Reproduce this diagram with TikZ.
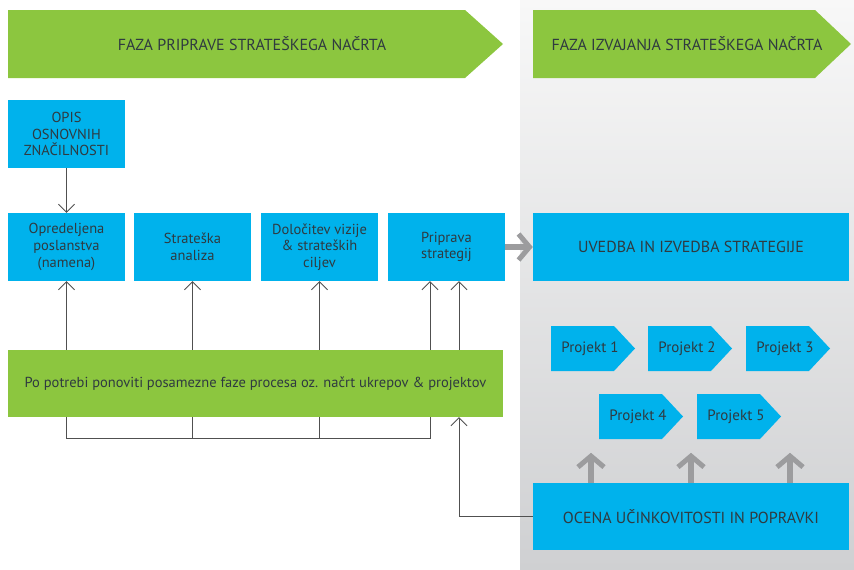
\documentclass[tikz,border=0pt]{standalone}
\usepackage{fontspec}
\setmainfont{PT Sans}
\usepackage{tikz}
\usetikzlibrary{arrows.meta}
\definecolor{faza_green}{HTML}{8CC63F}
\definecolor{box_blue}{HTML}{00B2EC}
\definecolor{arrow_gray}{HTML}{9C9C9E}
\definecolor{line_gray}{HTML}{505050}
\definecolor{txt_dark}{HTML}{2F3A40}
\definecolor{bg_top}{HTML}{F8F8F8}
\definecolor{bg_bottom}{HTML}{CFD0D2}

\begin{document}
\begin{tikzpicture}[x=1pt, y=-1pt]
    \tikzstyle{box} = [fill=box_blue, text=txt_dark, inner sep=0pt, align=center, font=\fontsize{14.5}{16.7}\selectfont];
    \tikzstyle{title} = [text=txt_dark, font=\fontsize{16}{18}\selectfont];
    \tikzstyle{lnk} = [draw=line_gray, line width=0.8pt, -{Straight Barb[length=8pt, width=16pt, line width=0.8pt]}];
    \tikzstyle{thick arrow} = [draw=arrow_gray, line width=6pt, -{Straight Barb[length=11pt, width=26pt, line width=5pt]}];
    \useasboundingbox (0,0) rectangle (854,570);
    \shade[top color=bg_top, bottom color=bg_bottom] (520,0) rectangle (854,570);
    % phase chevrons
    \fill[faza_green] (8,10) -- (465,10) -- (503,44) -- (465,78) -- (8,78) -- cycle;
    \fill[faza_green] (533,10) -- (815,10) -- (851,44) -- (815,78) -- (533,78) -- cycle;
    \node[title] (priprava) at (252,44) {FAZA PRIPRAVE STRATEŠKEGA NAČRTA};
    \node[title] (izvajanje) at (687,44) {FAZA IZVAJANJA STRATEŠKEGA NAČRTA};
    % preparation boxes
    \node[box, minimum width=117pt, minimum height=68pt] (opis) at (66.5,134) {OPIS\\OSNOVNIH\\ZNAČILNOSTI};
    \foreach \name/\x/\l in {opredeljena/66.5/{Opredeljena\\poslanstva\\(namena)},
        analiza/192.5/{Strateška\\analiza},
        vizija/319.5/{Določitev vizije\\\& strateških\\ciljev},
        strategije/446.5/{Priprava\\strategij}}
    {\node[box, minimum width=117pt, minimum height=68pt] (\name) at (\x,247) {\l};}
    \node[box, minimum width=495pt, minimum height=67pt, fill=faza_green] (ponoviti) at (255.5,383.5) {Po potrebi ponoviti posamezne faze procesa oz. načrt ukrepov \& projektov};
    % implementation boxes
    \node[box, minimum width=316pt, minimum height=68pt, font=\fontsize{16}{18}\selectfont] (uvedba) at (691,247) {UVEDBA IN IZVEDBA STRATEGIJE};
    \node[box, minimum width=316pt, minimum height=67pt, font=\fontsize{16}{18}\selectfont] (ocena) at (691,516.5) {OCENA UČINKOVITOSTI IN POPRAVKI};
    \foreach \n/\x/\y in {1/551/348.5, 2/648/348.5, 3/746/348.5, 4/599/416.5, 5/697/416.5}
    {
    \fill[box_blue] (\x,\y-22.5) -- ++(63,0) -- ++(21,22.5) -- ++(-21,22.5) -- ++(-63,0) -- cycle;
    \node[box, font=\fontsize{15}{17}\selectfont] (projekt\n) at (\x+39,\y) {Projekt \n};}
    % connectors
    \draw[lnk] (opis) -- (opredeljena);
    \foreach \b in {opredeljena, analiza, vizija}
    {\draw[lnk] (ponoviti.north -| \b) -- (\b.south);}
    \coordinate (back) at ([xshift=-16.5pt]strategije.south);
    \coordinate (retry) at ([xshift=12.5pt]strategije.south);
    \coordinate (loop) at (0,438);
    \draw[lnk] (ponoviti.north -| back) -- (back);
    \draw[lnk] (ponoviti.north -| retry) -- (retry);
    \draw[line_gray, line width=0.8pt] (ponoviti.south -| opredeljena) -- (loop -| opredeljena) -- (loop -| back) -- (ponoviti.south -| back);
    \foreach \b in {analiza, vizija}
    {\draw[line_gray, line width=0.8pt] (ponoviti.south -| \b) -- (loop -| \b);}
    \draw[lnk] (ocena.west) -| (ponoviti.south -| retry);
    \draw[thick arrow] (strategije.east) -- (uvedba.west);
    \foreach \s in {-100, 0, 99}
    {\draw[thick arrow] ([xshift=\s pt]ocena.north) -- ++(0,-30);}
\end{tikzpicture}
\end{document}
